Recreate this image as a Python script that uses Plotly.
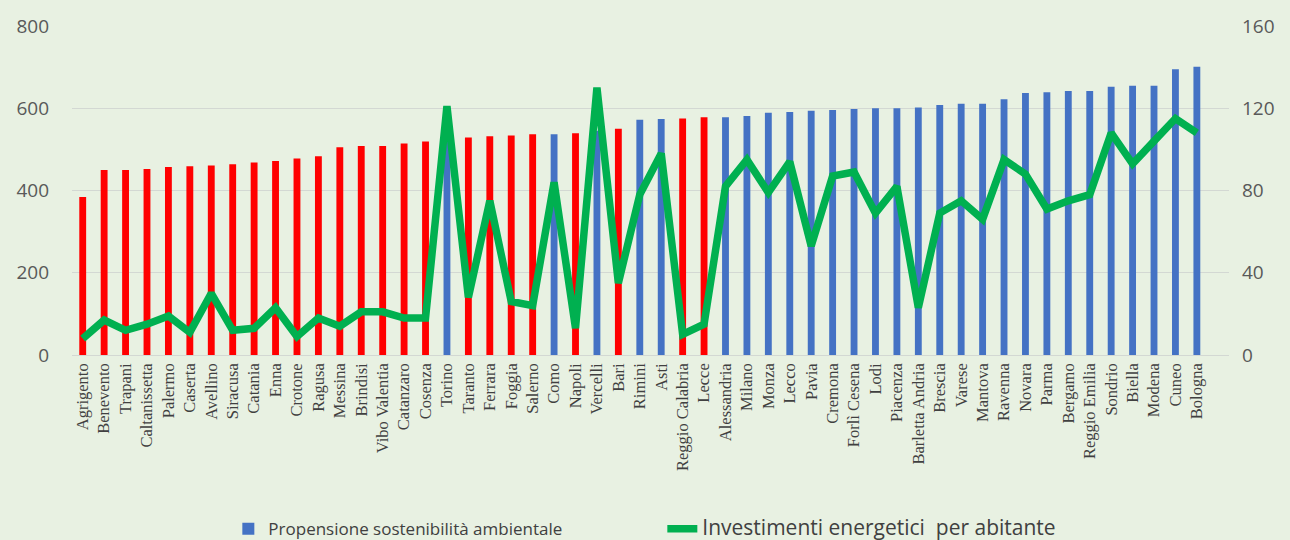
import plotly.graph_objects as go

# Province, ordered by the environmental-sustainability index
province = [
    "Agrigento", "Benevento", "Trapani", "Caltanissetta", "Palermo", "Caserta",
    "Avellino", "Siracusa", "Catania", "Enna", "Crotone", "Ragusa", "Messina",
    "Brindisi", "Vibo Valentia", "Catanzaro", "Cosenza", "Torino", "Taranto",
    "Ferrara", "Foggia", "Salerno", "Como", "Napoli", "Vercelli", "Bari",
    "Rimini", "Asti", "Reggio Calabria", "Lecce", "Alessandria", "Milano",
    "Monza", "Lecco", "Pavia", "Cremona", "Forlì Cesena", "Lodi", "Piacenza",
    "Barletta Andria", "Brescia", "Varese", "Mantova", "Ravenna", "Novara",
    "Parma", "Bergamo", "Reggio Emilia", "Sondrio", "Biella", "Modena",
    "Cuneo", "Bologna",
]

# Propensione sostenibilità ambientale (left axis)
propensione = [
    384, 450, 450, 452, 457, 459, 461, 464, 468, 472, 478, 483, 505, 508, 508,
    514, 519, 522, 529, 532, 534, 537, 537, 539, 545, 550, 572, 574, 575, 578,
    578, 581, 589, 591, 594, 596, 598, 600, 600, 602, 608, 611, 611, 622, 637,
    639, 642, 642, 652, 655, 655, 695, 701,
]

# Investimenti energetici per abitante (right axis)
investimenti = [
    8, 17, 12, 15, 19, 11, 30, 12, 13, 23, 9, 18, 14, 21, 21, 18, 18, 121, 28,
    75, 26, 24, 84, 13, 130, 35, 78, 98, 10, 15, 82, 95, 79, 94, 53, 87, 89,
    69, 82, 23, 69, 75, 66, 95, 88, 71, 75, 78, 108, 93, 104, 115, 108,
]

# Provinces of the South, drawn in red
sud = {
    "Agrigento", "Benevento", "Trapani", "Caltanissetta", "Palermo", "Caserta",
    "Avellino", "Siracusa", "Catania", "Enna", "Crotone", "Ragusa", "Messina",
    "Brindisi", "Vibo Valentia", "Catanzaro", "Cosenza", "Taranto", "Ferrara",
    "Foggia", "Salerno", "Napoli", "Bari", "Reggio Calabria", "Lecce",
}

BLUE = "#4472C4"
RED = "#FF0000"
GREEN = "#00B050"
BG = "#E8F1E2"
GRID = "#D3D8D3"
TICK = "#595959"
SANS = "Open Sans, Lato, sans-serif"

idx = list(range(len(province)))
blue_i = [i for i in idx if province[i] not in sud]
red_i = [i for i in idx if province[i] in sud]

fig = go.Figure()

fig.add_trace(go.Bar(
    x=blue_i, y=[propensione[i] for i in blue_i],
    marker=dict(color=BLUE, line=dict(width=0)), width=0.32,
    name='<span style="font-size:17px">Propensione sostenibilità ambientale</span>',
))
fig.add_trace(go.Bar(
    x=red_i, y=[propensione[i] for i in red_i],
    marker=dict(color=RED, line=dict(width=0)), width=0.32,
    showlegend=False,
))
fig.add_trace(go.Scatter(
    x=idx, y=investimenti, yaxis="y2", mode="lines",
    line=dict(color=GREEN, width=7.5),
    name='<span style="font-size:21px">Investimenti energetici  per abitante</span>',
))

fig.update_layout(
    width=1290, height=540,
    margin=dict(l=72, r=61, t=26, b=185, autoexpand=False),
    paper_bgcolor=BG, plot_bgcolor=BG,
    barmode="overlay",
    font=dict(family=SANS, color=TICK),
    showlegend=True,
    legend=dict(
        orientation="h", xref="container", x=0.177, xanchor="left",
        yref="container", y=0.02, yanchor="middle",
        entrywidth=389, entrywidthmode="pixels",
        font=dict(family=SANS, size=17, color="#404040"),
        bgcolor="rgba(0,0,0,0)",
    ),
    xaxis=dict(
        range=[-0.5, 53.5], tickmode="array", tickvals=idx, ticktext=province,
        tickangle=-90, showgrid=False, zeroline=False, ticks="",
        tickfont=dict(family="Liberation Serif, Times New Roman, serif",
                      size=16.5, color="#404040"),
        showline=False, automargin=False, ticklabelstandoff=4,
    ),
    yaxis=dict(
        range=[0, 800], dtick=200, showgrid=True, gridcolor=GRID, gridwidth=1,
        zeroline=True, zerolinecolor=GRID, zerolinewidth=1,
        tickfont=dict(size=19, color=TICK), ticks="", ticklabelstandoff=22,
        automargin=False,
    ),
    yaxis2=dict(
        range=[0, 160], dtick=40, overlaying="y", side="right", showgrid=False,
        zeroline=False, tickfont=dict(size=19, color=TICK), ticks="",
        ticklabelstandoff=12, automargin=False,
    ),
)

fig.write_html("out.html")
